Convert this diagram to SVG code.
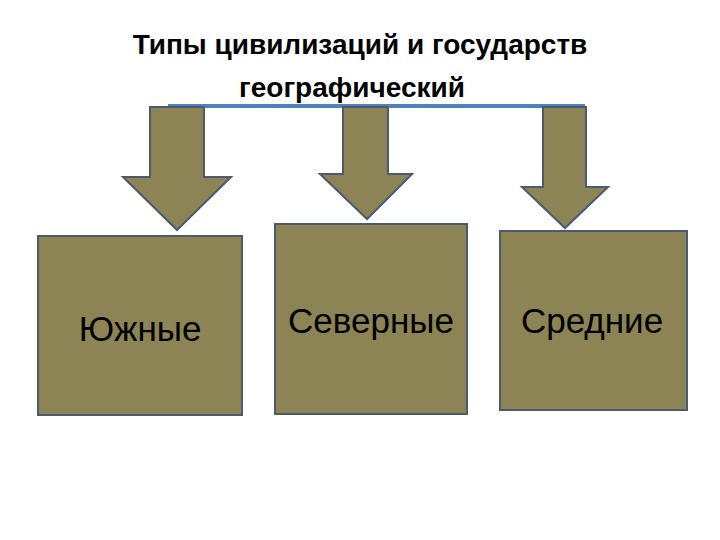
<svg xmlns="http://www.w3.org/2000/svg" width="720" height="540" viewBox="0 0 720 540">
<style>
.shape{fill:#8C8454;stroke:#4A5A70;stroke-width:2}
.title{font-family:"Liberation Sans",Arial,sans-serif;font-weight:bold;font-size:28px;fill:#000;text-anchor:middle}
.lbl{font-family:"Liberation Sans",Arial,sans-serif;font-size:35px;fill:#000;text-anchor:middle}
</style>
<rect width="720" height="540" fill="#fff"/>
<g id="title">
<text class="title" x="360" y="54">Типы цивилизаций и государств</text>
<text class="title" x="352" y="97">географический</text>
</g>
<g id="connectors">
<line x1="168" y1="106" x2="585" y2="106" stroke="#4F81BD" stroke-width="4"/>
<polygon class="shape" points="150,107 204,107 204,177 231,177 177,230 123,177 150,177"/>
<polygon class="shape" points="343,107 388,107 388,174 412,174 367,219 320,174 343,174"/>
<polygon class="shape" points="543,107 586,107 586,187 608,187 565,228 522,187 543,187"/>
</g>
<g id="node-south">
<rect class="shape" x="38" y="236" width="204" height="179"/>
<text class="lbl" x="140" y="341">Южные</text>
</g>
<g id="node-north">
<rect class="shape" x="275" y="224" width="192" height="190"/>
<text class="lbl" x="371" y="333">Северные</text>
</g>
<g id="node-middle">
<rect class="shape" x="500" y="231" width="187" height="179"/>
<text class="lbl" x="592" y="333">Средние</text>
</g>
</svg>
